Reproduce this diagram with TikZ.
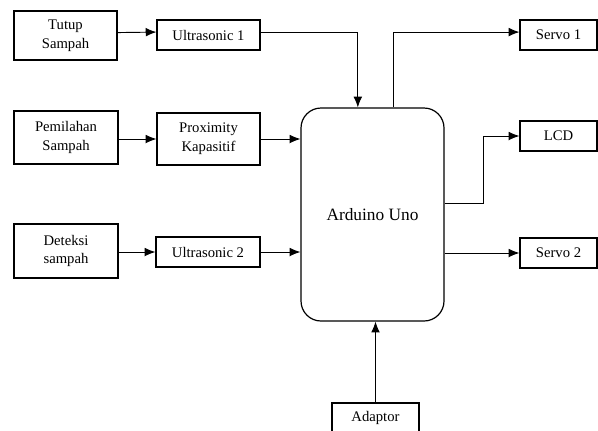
\documentclass[tikz,border=0pt]{standalone}
\usepackage{fontspec}
\setmainfont{LiberationSerif}[Extension=.ttf, UprightFont=*-Regular, BoldFont=*-Bold]
\usepackage{tikz}
\usetikzlibrary{arrows.meta, positioning, calc}

\begin{document}
\begin{tikzpicture}[x=0.75pt, y=-0.75pt, >={Latex[length=8pt,width=6.5pt]},
  blok/.style={draw, line width=0.9pt, align=center, inner sep=0pt,
    font=\rmfamily\fontsize{11}{14}\selectfont},
  panah/.style={->, line width=0.7pt}]

% Frame
\clip (0,0) rectangle (598,430);

% Inputs
\node[blok, minimum width=103*0.75pt, minimum height=49*0.75pt] (tutup) at (65.5,35.5) {Tutup\\Sampah};
\node[blok, minimum width=104*0.75pt, minimum height=53*0.75pt] (pilah) at (66,137.5) {Pemilahan\\Sampah};
\node[blok, minimum width=104*0.75pt, minimum height=54*0.75pt] (deteksi) at (66,251) {Deteksi\\sampah};

% Sensors
\node[blok, minimum width=103*0.75pt, minimum height=30*0.75pt] (ultra1) at (208.5,35) {Ultrasonic 1};
\node[blok, minimum width=103*0.75pt, minimum height=52*0.75pt] (proxi) at (208.5,139) {Proximity\\Kapasitif};
\node[blok, minimum width=104*0.75pt, minimum height=30*0.75pt] (ultra2) at (208,252) {Ultrasonic 2};

% Controller
\node[blok, rounded corners=15pt, minimum width=143*0.75pt, minimum height=213*0.75pt,
  font=\rmfamily\fontsize{13}{16}\selectfont] (arduino) at (372.5,214.5) {Arduino Uno};

% Outputs
\node[blok, minimum width=77*0.75pt, minimum height=30*0.75pt] (servo1) at (558.5,35) {Servo 1};
\node[blok, minimum width=77*0.75pt, minimum height=30*0.75pt] (lcd) at (558.5,136) {LCD};
\node[blok, minimum width=77*0.75pt, minimum height=30*0.75pt] (servo2) at (558.5,253) {Servo 2};
\node[blok, minimum width=87*0.75pt, minimum height=30*0.75pt] (adaptor) at (375.5,418) {Adaptor};

% Connections
\draw[panah] ([yshift=2.2pt]tutup.east) -- ([yshift=2.2pt]ultra1.west);
\draw[panah] (pilah.east |- proxi) -- (proxi);
\draw[panah] (deteksi.east |- ultra2) -- (ultra2);
\draw[panah] ([yshift=2.2pt]ultra1.east) -| ([xshift=-11pt]arduino.north);
\draw[panah] (proxi) -- (arduino.west |- proxi);
\draw[panah] (ultra2) -- (arduino.west |- ultra2);
\draw[panah] ([xshift=15.4pt]arduino.north) |- ([yshift=2.2pt]servo1.west);
\draw[panah] ([yshift=8.6pt]arduino.east) -- ++(29.25pt,0) |- (lcd);
\draw[panah] (arduino.east |- servo2) -- (servo2);
\draw[panah] (adaptor) -- (arduino.south -| adaptor);

\end{tikzpicture}
\end{document}
